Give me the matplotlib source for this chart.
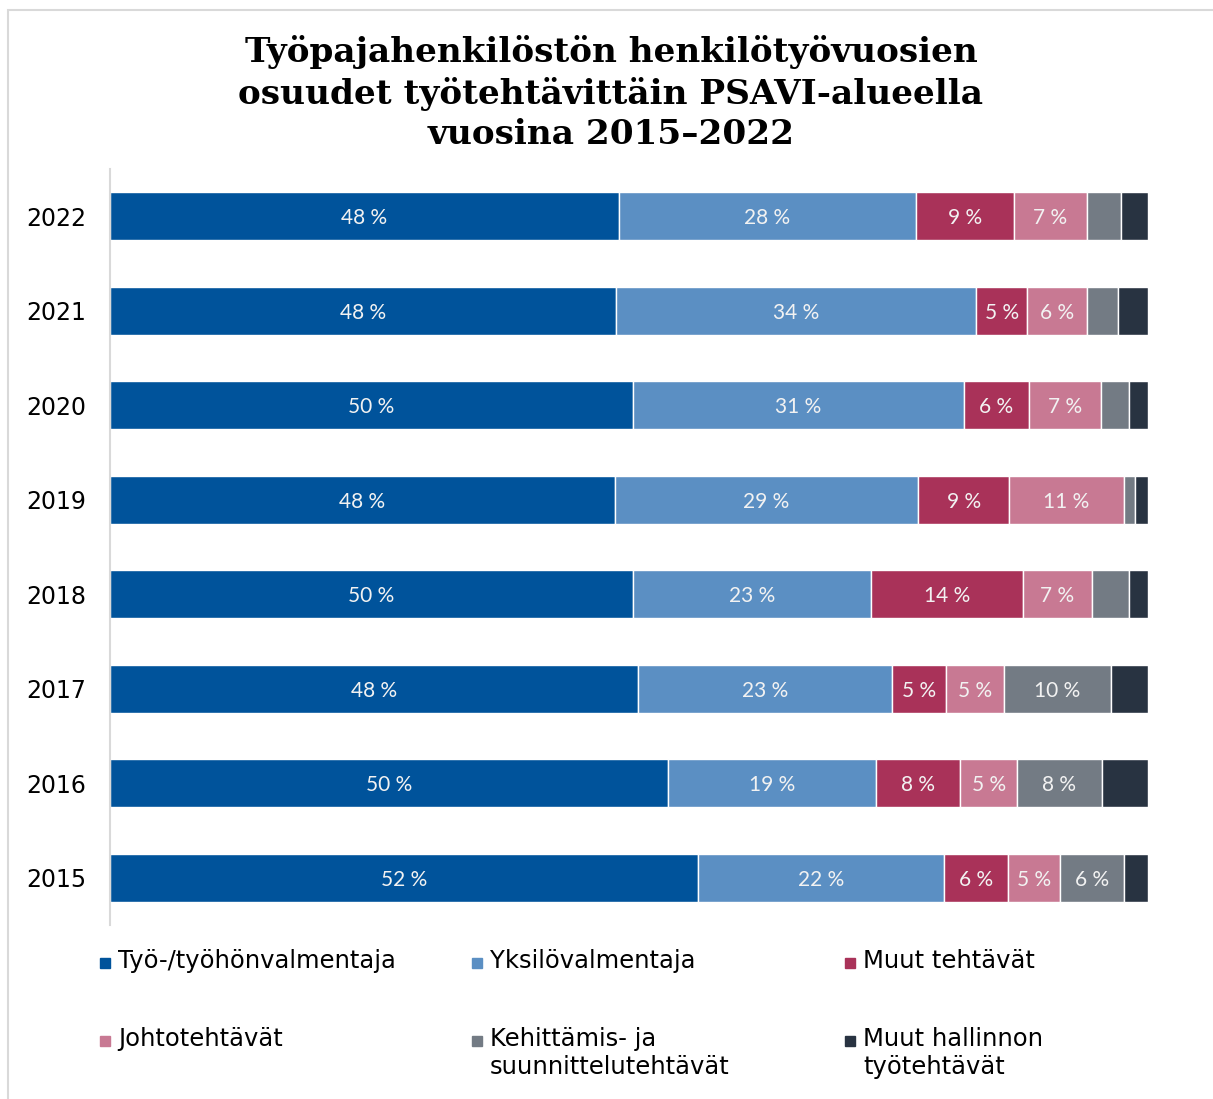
import matplotlib
matplotlib.use("Agg")
from matplotlib import pyplot as plt
from matplotlib.patches import Rectangle
import numpy as np

# Vuodet ja tehtäväryhmät (raaka-arvot, %; kaavio normalisoi rivit 100 %:iin)
vuodet = ["2015", "2016", "2017", "2018", "2019", "2020", "2021", "2022"]
ryhmat = ["Työ-/työhönvalmentaja", "Yksilövalmentaja", "Muut tehtävät",
          "Johtotehtävät", "Kehittämis- ja\nsuunnittelutehtävät",
          "Muut hallinnon\ntyötehtävät"]
tyo = [51.6, 50.4, 48.0, 49.7, 47.7, 49.6, 47.7, 48.0]
yksilo = [21.6, 18.8, 23.1, 22.6, 28.7, 31.4, 34.0, 28.0]
muut = [5.6, 7.6, 4.9, 14.4, 8.6, 6.2, 4.8, 9.3]
johto = [4.6, 5.2, 5.3, 6.6, 10.8, 6.8, 5.6, 6.8]
kehitt = [5.6, 7.6, 9.7, 3.5, 1.1, 2.7, 3.0, 3.3]
hallinto = [2.1, 4.2, 3.4, 1.8, 1.2, 1.8, 2.8, 2.5]
varit = ["#00539B", "#5B8FC3", "#A93259", "#C87993", "#737B84", "#283341"]

arvot = np.array([tyo, yksilo, muut, johto, kehitt, hallinto])
osuus = arvot / arvot.sum(axis=0) * 100

fig = plt.figure(figsize=(12.13, 10.99), dpi=100)
W, H = 1213, 1099

# harmaa kehys
fig.patches.append(Rectangle((8 / W, -0.1), 1.2, 1 - 10 / H + 0.1, transform=fig.transFigure,
                             fill=False, edgecolor="#d9d9d9", linewidth=1.5))

ax = fig.add_axes([110 / W, 1 - 925 / H, (1148 - 110) / W, (925 - 169) / H])
y = np.arange(len(vuodet))
vasen = np.zeros(len(vuodet))
for i in range(len(ryhmat)):
    ax.barh(y, osuus[i], left=vasen, height=0.51, color=varit[i],
            edgecolor="white", linewidth=1)
    for j in range(len(vuodet)):
        if round(arvot[i, j]) >= 5:
            ax.text(vasen[j] + osuus[i, j] / 2, y[j], f"{round(arvot[i, j])} %",
                    ha="center", va="center_baseline", color="#f2f2f2", fontsize=15,
                    family="Lato")
    vasen += osuus[i]

ax.set_xlim(0, 100)
ax.set_ylim(-0.5, len(vuodet) - 0.5)
ax.set_yticks(y)
ax.set_yticklabels(vuodet, fontsize=17, family="DejaVu Sans")
ax.tick_params(axis="y", length=0, pad=17)
ax.set_xticks([])
for s in ["top", "right", "bottom"]:
    ax.spines[s].set_visible(False)
ax.spines["left"].set_color("#d9d9d9")
ax.spines["left"].set_linewidth(1.5)

fig.text(611 / W, 1 - 35 / H,
         "Työpajahenkilöstön henkilötyövuosien\nosuudet työtehtävittäin PSAVI-alueella\nvuosina 2015–2022",
         ha="center", va="top", fontsize=24.7, fontweight="bold", family="DejaVu Serif",
         linespacing=1.28)

# selite
sar_x = [100, 472, 845]
rivi_y = [949, 1027]
for k, nimi in enumerate(ryhmat):
    x0 = sar_x[k % 3]
    y0 = rivi_y[k // 3]
    fig.patches.append(Rectangle((x0 / W, 1 - (y0 + 19) / H), 10 / W, 10 / H,
                                 transform=fig.transFigure, color=varit[k]))
    fig.text((x0 + 18) / W, 1 - y0 / H, nimi, ha="left", va="top", fontsize=17.5,
             family="DejaVu Sans", linespacing=1.2)

fig.savefig("out.png", dpi=100)
